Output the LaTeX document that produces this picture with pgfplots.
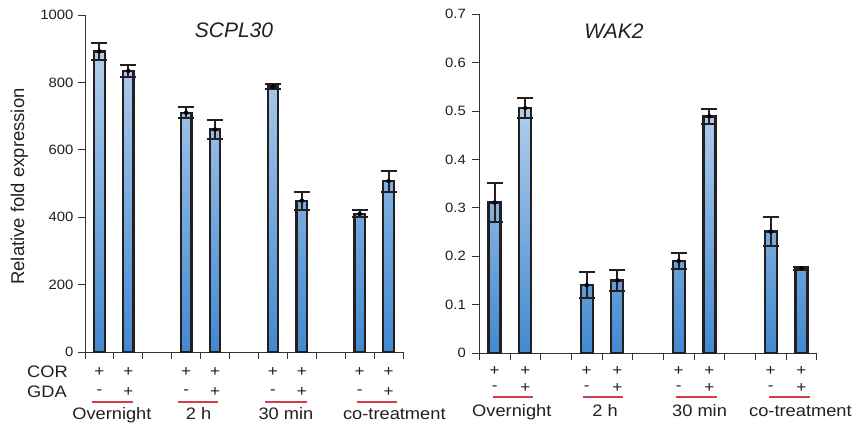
\documentclass[border=0pt]{standalone}
\usepackage{pgfplots}
\pgfplotsset{compat=1.18}
\usepackage{pgfplotstable}
\usepackage{fontspec}
\setmainfont{Liberation Sans}[FakeStretch=1.1]
\newfontfamily\titlefont{Liberation Sans}
\definecolor{barTop}{RGB}{178,206,236}
\definecolor{barBot}{RGB}{66,137,208}
\definecolor{edge}{RGB}{35,31,32}
\definecolor{redline}{RGB}{214,60,78}
\definecolor{txt}{RGB}{35,31,32}

\pgfplotstableread{
x y e
0.5 892 25
1.5 834 18
3.5 710 16
4.5 660 27
6.5 788 8
7.5 449 27
9.5 410 10
10.5 507 31
}\scpl

\pgfplotstableread{
x y e
0.5 0.311 0.040
1.5 0.506 0.020
3.5 0.140 0.027
4.5 0.150 0.022
6.5 0.190 0.016
7.5 0.489 0.016
9.5 0.251 0.030
10.5 0.175 0.003
}\wak

\pgfplotsset{
  myaxis/.style={
    scale only axis,
    anchor=south west,
    axis lines*=left,
    axis line style={draw=black!80, line width=0.9pt},
    xmin=0, xmax=11,
    xtick={0,...,11}, xticklabels={},
    tick align=outside,
    major tick length=7pt,
    tick style={draw=black!80, line width=0.9pt},
    clip=false,
    /pgf/number format/assume math mode=true,
    /pgf/number format/1000 sep={},
    ticklabel style={font=\fontsize{13.5}{14}\selectfont, text=txt},
  },
  mybar/.style={
    ybar, bar shift=0pt, draw=edge, line width=2.3pt,
    top color=barTop, bottom color=barBot,
  },
  myerr/.style={
    only marks, mark=none, forget plot,
    error bars/.cd, y dir=both, y explicit,
    error bar style={draw=edge, line width=2pt},
    error mark options={rotate=90, mark size=8pt, line width=2pt, draw=edge},
  },
}
\tikzset{lab/.style={font=\fontsize{16.6}{16.6}\selectfont, text=txt, inner sep=0pt},
         pm/.style={font=\fontsize{15.5}{15.5}\selectfont, text=txt, inner sep=0pt}}

\begin{document}
\begin{tikzpicture}[x=1pt,y=1pt]
\useasboundingbox (0,0) rectangle (858,428);

% ---------- left panel ----------
\begin{axis}[myaxis,
  at={(85pt,76pt)}, width=318pt, height=337pt,
  ymin=0, ymax=1000, ytick={0,200,...,1000},
  yticklabel style={xshift=-1pt},
]
\addplot[mybar, bar width=10.5pt] table[x=x,y=y] {\scpl};
\addplot[myerr] table[x=x,y=y,y error=e] {\scpl};
\end{axis}

% ---------- right panel ----------
\begin{axis}[myaxis,
  at={(479.3pt,75pt)}, width=337.4pt, height=338.7pt,
  ymin=0, ymax=0.7, ytick={0,0.1,...,0.7},
  yticklabel style={/pgf/number format/fixed, /pgf/number format/precision=1, xshift=-3pt},
]
\addplot[mybar, bar width=12pt] table[x=x,y=y] {\wak};
\addplot[myerr] table[x=x,y=y,y error=e] {\wak};
\end{axis}

% ---------- treatment rows (left: x = 85 + 28.909 u ; right: x = 479.3 + 30.673 u) ----------
\foreach \u/\s in {0.5/-,1.5/+,3.5/-,4.5/+,6.5/-,7.5/+,9.5/-,10.5/+}{
  \node[pm] at ({85+\u*28.909},56) {+};
  \node[pm] at ({85+\u*28.909},36) {\s};
  \node[pm] at ({479.3+\u*30.673},56.5) {+};
  \node[pm] at ({479.3+\u*30.673},39.5) {\s};
}
% left red lines and group labels
\foreach \a/\b/\c/\t in {0.25/1.65/0.93/Overnight,3.2/4.6/3.93/2 h,6.24/7.67/6.95/30 min,9.4/10.79/10.7/co-treatment}{
  \draw[redline, line width=1.6pt] ({85+\a*28.909},26) -- ({85+\b*28.909},26);
  \node[lab, anchor=base] at ({85+\c*28.909},9) {\t};
}
% right red lines and group labels
\foreach \a/\b/\c/\t in {0.45/1.74/1.06/Overnight,3.37/4.7/4.1/2 h,6.41/7.74/7.18/30 min,9.45/10.78/10.47/co-treatment}{
  \draw[redline, line width=1.4pt] ({479.3+\a*30.673},31) -- ({479.3+\b*30.673},31);
  \node[lab, anchor=base] at ({479.3+\c*30.673},11.3) {\t};
}

% ---------- texts ----------
\node[anchor=base, font=\titlefont\itshape\fontsize{21}{21}\selectfont, text=txt] at (234,390.7) {SCPL30};
\node[anchor=base, font=\titlefont\itshape\fontsize{21}{21}\selectfont, text=txt] at (614,389.7) {WAK2};
\node[anchor=base, rotate=90, font=\titlefont\fontsize{18.5}{18.5}\selectfont, text=txt] at (24,241.5) {Relative fold expression};
\node[lab, anchor=base west] at (27,50.5) {COR};
\node[lab, anchor=base west] at (27,30.5) {GDA};
\end{tikzpicture}
\end{document}
